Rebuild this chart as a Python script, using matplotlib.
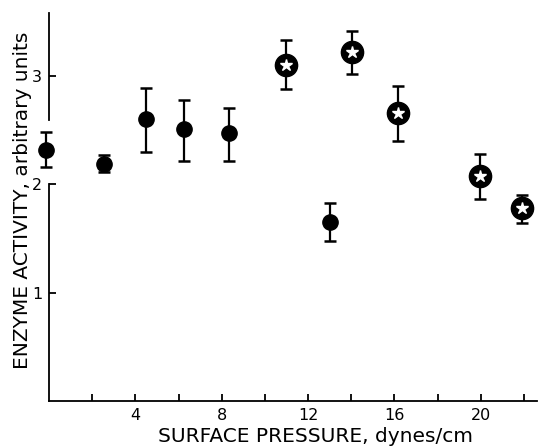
import matplotlib

matplotlib.use('Agg')
import matplotlib.pyplot as plt

plt.rcParams['font.family'] = ['DejaVu Sans']

# filled circles (plain) and starred circles
plain_x = [-0.15, 2.56, 4.49, 6.25, 8.33, 13.0]
plain_y = [2.32, 2.19, 2.60, 2.51, 2.47, 1.65]
plain_hi = [2.48, 2.27, 2.89, 2.78, 2.70, 1.83]
plain_lo = [2.16, 2.11, 2.30, 2.21, 2.21, 1.48]

star_x = [10.97, 14.03, 16.16, 19.95, 21.9]
star_y = [3.10, 3.22, 2.66, 2.08, 1.78]
star_hi = [3.33, 3.41, 2.91, 2.28, 1.90]
star_lo = [2.88, 3.02, 2.40, 1.86, 1.64]

x_ticks = [2, 4, 6, 8, 10, 12, 14, 16, 18, 20, 22]
x_labels = ['', '4', '', '8', '', '12', '', '16', '', '20', '']
y_ticks = [1, 2, 3]
y_break = (2.0, 2.59)  # gap drawn in the y axis line

fig = plt.figure(figsize=(5.38, 4.47), dpi=100)
ax = fig.add_axes([0.091, 0.103, 0.907, 0.868])
ax.set_xlim(0, 22.6)
ax.set_ylim(0, 3.58)


def errs(y, hi, lo):
  return [[a - b for a, b in zip(y, lo)], [b - a for a, b in zip(y, hi)]]


ax.errorbar(plain_x, plain_y, yerr=errs(plain_y, plain_hi, plain_lo), fmt='o',
            color='black', ms=11, elinewidth=1.6, capsize=4.5, capthick=1.8,
            clip_on=False, zorder=3)
ax.errorbar(star_x, star_y, yerr=errs(star_y, star_hi, star_lo), fmt='o',
            color='black', ms=16, elinewidth=1.6, capsize=4.5, capthick=1.8,
            clip_on=False, zorder=3)
ax.plot(star_x, star_y, '*', color='white', ms=9, mec='white', zorder=4,
        clip_on=False)

# broken y axis
for side in ('left', 'top', 'right'):
  ax.spines[side].set_visible(False)
ax.spines['bottom'].set_linewidth(1.3)
ax.plot([0, 0], [0, y_break[0]], color='black', lw=1.3, clip_on=False)
ax.plot([0, 0], [y_break[1], 3.58], color='black', lw=1.3, clip_on=False)

ax.set_xticks(x_ticks)
ax.set_xticklabels(x_labels)
ax.set_yticks(y_ticks)
ax.set_yticklabels([str(t) for t in y_ticks])
ax.tick_params(axis='x', direction='in', length=5, width=1.3, labelsize=11.5,
               pad=5)
ax.tick_params(axis='y', direction='in', length=5, width=1.3, labelsize=11.5,
               pad=5)

ax.set_xlabel('SURFACE PRESSURE, dynes/cm', fontsize=14.5)
ax.set_ylabel('ENZYME ACTIVITY, arbitrary units', fontsize=14.5)
ax.xaxis.set_label_coords(0.547, -0.066)
ax.yaxis.set_label_coords(-0.034, 0.518)

fig.savefig('out.png', dpi=100)
